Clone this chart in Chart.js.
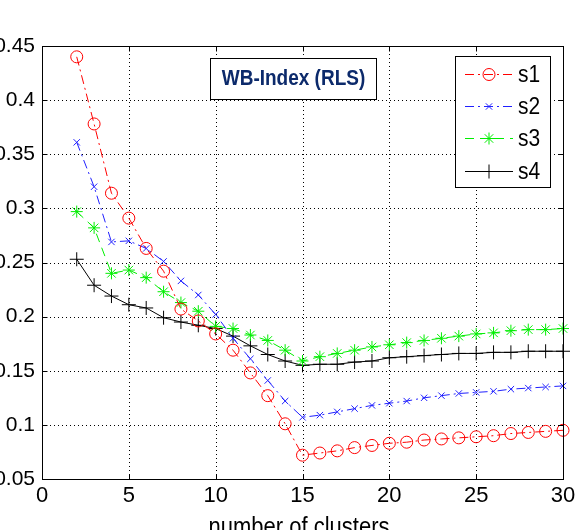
<!DOCTYPE html>
<html>
<head>
<meta charset="utf-8">
<script src="https://cdn.jsdelivr.net/npm/chart.js@4/dist/chart.umd.min.js"></script>
<style>
  html, body { margin: 0; padding: 0; background: #fff; overflow: hidden; }
  canvas { display: block; }
</style>
</head>
<body>
<canvas id="c" width="585" height="530"></canvas>
<script>
// number of clusters (x) and WB-index values per series
const clusters = [2,3,4,5,6,7,8,9,10,11,12,13,14,15,16,17,18,19,20,21,22,23,24,25,26,27,28,29,30];
const s1 = [0.440,0.378,0.314,0.291,0.263,0.242,0.207,0.196,0.184,0.169,0.148,0.127,0.101,0.072,0.074,0.076,0.079,0.081,0.083,0.084,0.086,0.087,0.088,0.089,0.090,0.092,0.093,0.094,0.095];
const s2 = [0.361,0.320,0.269,0.270,0.263,0.251,0.233,0.220,0.202,0.180,0.161,0.141,0.122,0.107,0.109,0.112,0.115,0.118,0.120,0.122,0.125,0.127,0.129,0.130,0.131,0.133,0.134,0.135,0.136];
const s3 = [0.297,0.282,0.240,0.243,0.236,0.223,0.213,0.205,0.191,0.189,0.183,0.178,0.169,0.159,0.163,0.166,0.169,0.172,0.174,0.176,0.178,0.180,0.182,0.184,0.185,0.187,0.188,0.188,0.189];
const s4 = [0.253,0.229,0.219,0.211,0.208,0.199,0.195,0.192,0.189,0.182,0.173,0.165,0.159,0.155,0.156,0.156,0.158,0.159,0.162,0.163,0.164,0.165,0.166,0.166,0.167,0.167,0.168,0.168,0.168];
const seriesNames = ['s1', 's2', 's3', 's4'];
const xTicks = [0, 5, 10, 15, 20, 25, 30];
const yTicks = [0.05, 0.1, 0.15, 0.2, 0.25, 0.3, 0.35, 0.4, 0.45];

const FONT = 'Arial, "Liberation Sans", sans-serif';

const toPoints = (vals) => vals.map((v, i) => ({ x: clusters[i], y: v }));

const styles = [
  { color: '#ff0000', dash: [9, 4, 2, 4], pointStyle: 'circle', radius: 6 },
  { color: '#2020ff', dash: [9, 4, 2, 4], pointStyle: 'crossRot', radius: 4.5 },
  { color: '#00ee00', dash: [9, 6], pointStyle: 'star', radius: 6 },
  { color: '#000000', dash: [], pointStyle: 'cross', radius: 7 },
];

const datasets = [s1, s2, s3, s4].map((vals, i) => ({
  label: seriesNames[i],
  data: toPoints(vals),
  borderColor: styles[i].color,
  backgroundColor: 'rgba(0,0,0,0)',
  pointBorderColor: styles[i].color,
  pointBackgroundColor: 'rgba(0,0,0,0)',
  borderWidth: 1,
  borderDash: styles[i].dash,
  pointStyle: styles[i].pointStyle,
  pointRadius: styles[i].radius,
  pointBorderWidth: 1,
  tension: 0,
  clip: false,
}));

// text drawn slightly stretched vertically, like the source image
const tallText = (ctx, text, x, y, sy) => {
  ctx.save();
  ctx.translate(x, y);
  ctx.scale(1, sy);
  ctx.fillText(text, 0, 0);
  ctx.restore();
};

// dotted grid, axes box with inward ticks, title box, legend
const framePlugin = {
  id: 'frame',
  beforeDatasetsDraw(chart) {
    const { ctx, chartArea: a, scales } = chart;
    ctx.save();
    ctx.strokeStyle = '#000';
    ctx.lineWidth = 1;
    ctx.setLineDash([1, 3]);
    xTicks.forEach((t) => {
      const x = Math.round(scales.x.getPixelForValue(t)) + 0.5;
      ctx.beginPath(); ctx.moveTo(x, a.top); ctx.lineTo(x, a.bottom); ctx.stroke();
    });
    yTicks.forEach((t) => {
      const y = Math.round(scales.y.getPixelForValue(t)) + 0.5;
      ctx.beginPath(); ctx.moveTo(a.left, y); ctx.lineTo(a.right, y); ctx.stroke();
    });
    ctx.restore();
  },
  afterDatasetsDraw(chart) {
    const { ctx, chartArea: a, scales } = chart;
    ctx.save();
    ctx.strokeStyle = '#000';
    ctx.lineWidth = 1;
    ctx.setLineDash([]);
    const L = Math.round(a.left) + 0.5, R = Math.round(a.right) + 0.5;
    const T = Math.round(a.top) + 0.5, B = Math.round(a.bottom) + 0.5;
    ctx.strokeRect(L, T, R - L, B - T);
    const tl = 5;
    ctx.beginPath();
    xTicks.forEach((t) => {
      const x = Math.round(scales.x.getPixelForValue(t)) + 0.5;
      ctx.moveTo(x, B); ctx.lineTo(x, B - tl);
      ctx.moveTo(x, T); ctx.lineTo(x, T + tl);
    });
    yTicks.forEach((t) => {
      const y = Math.round(scales.y.getPixelForValue(t)) + 0.5;
      ctx.moveTo(L, y); ctx.lineTo(L + tl, y);
      ctx.moveTo(R, y); ctx.lineTo(R - tl, y);
    });
    ctx.stroke();

    // title box
    ctx.fillStyle = '#fff';
    ctx.fillRect(210.5, 58.5, 166, 41);
    ctx.strokeRect(210.5, 58.5, 166, 41);
    ctx.fillStyle = '#0c2a6b';
    ctx.font = 'bold 19px ' + FONT;
    ctx.textAlign = 'center';
    ctx.textBaseline = 'middle';
    tallText(ctx, 'WB-Index (RLS)', 293.5, 79, 1.2);

    // legend
    const lx = 455.5, ly = 56.5, lw = 95, lh = 131;
    ctx.fillStyle = '#fff';
    ctx.fillRect(lx, ly, lw, lh);
    ctx.strokeRect(lx, ly, lw, lh);
    const rows = [74, 106, 138, 171];
    chart.data.datasets.forEach((ds, i) => {
      const y = rows[i] + 0.5;
      ctx.save();
      ctx.strokeStyle = ds.borderColor;
      ctx.lineWidth = 1;
      ctx.setLineDash(ds.borderDash);
      ctx.beginPath(); ctx.moveTo(465, y); ctx.lineTo(513, y); ctx.stroke();
      ctx.setLineDash([]);
      if (Chart.helpers && Chart.helpers.drawPoint) {
        ctx.strokeStyle = ds.pointBorderColor;
        ctx.fillStyle = 'rgba(0,0,0,0)';
        Chart.helpers.drawPoint(ctx, {
          pointStyle: ds.pointStyle, radius: ds.pointRadius, borderWidth: 1, rotation: 0,
        }, 489, y);
      }
      ctx.restore();
      ctx.fillStyle = '#000';
      ctx.font = '21px ' + FONT;
      ctx.textAlign = 'left';
      ctx.textBaseline = 'middle';
      tallText(ctx, ds.label, 518, rows[i] + 1, 1.15);
    });

    // x axis title
    ctx.fillStyle = '#000';
    ctx.font = '22px ' + FONT;
    ctx.textAlign = 'center';
    ctx.textBaseline = 'alphabetic';
    tallText(ctx, 'number of clusters', 299, 535, 1.15);
    ctx.restore();
  },
};

new Chart(document.getElementById('c'), {
  type: 'line',
  data: { datasets },
  options: {
    responsive: false,
    animation: false,
    layout: { padding: { top: 46, right: 22, left: 0, bottom: 0 } },
    plugins: { legend: { display: false }, tooltip: { enabled: false } },
    scales: {
      x: {
        type: 'linear',
        min: 0, max: 30,
        afterBuildTicks: (s) => { s.ticks = xTicks.map((v) => ({ value: v })); },
        afterFit: (s) => { s.height = 51; },
        grid: { display: false, drawTicks: false },
        border: { display: false },
        ticks: { color: '#000', font: { size: 22, family: FONT }, padding: 4, maxRotation: 0 },
      },
      y: {
        min: 0.05, max: 0.45,
        afterBuildTicks: (s) => { s.ticks = yTicks.map((v) => ({ value: v })); },
        afterFit: (s) => { s.width = 42; },
        grid: { display: false, drawTicks: false },
        border: { display: false },
        ticks: {
          color: '#000', font: { size: 21, family: FONT }, padding: 7,
          callback: (v) => String(Math.round(v * 100) / 100),
        },
      },
    },
  },
  plugins: [framePlugin],
});
</script>
</body>
</html>
